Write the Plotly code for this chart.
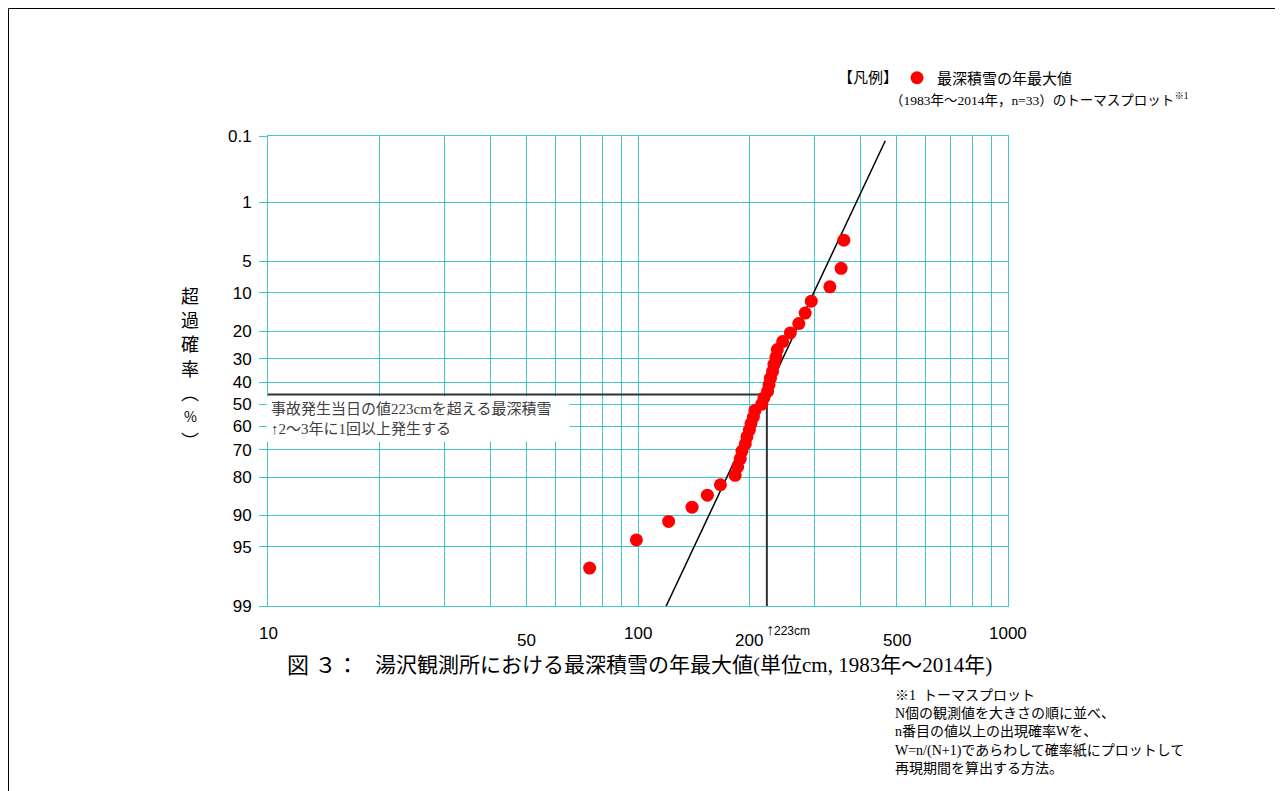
import math
from statistics import NormalDist
import plotly.graph_objects as go

# ---------------- data ----------------
# annual maximum snow depth (cm), ranked largest -> smallest (Thomas plot, n=33)
snow_depth_cm = [360, 354, 330, 294, 283, 272, 258, 246, 238, 236, 233, 231, 228, 226,
                 224, 219, 216, 207, 205, 202, 200, 197, 195, 191, 189, 186, 183, 167,
                 154, 140, 121, 99, 74]
# exceedance probability W = n/(N+1) in %
exceed_pct = [2.94, 5.88, 8.82, 11.76, 14.71, 17.65, 20.59, 23.53, 26.47, 29.41, 32.35,
              35.29, 38.24, 41.18, 44.12, 47.06, 50.00, 52.94, 55.88, 58.82, 61.76, 64.71,
              67.65, 70.59, 73.53, 76.47, 79.41, 82.35, 85.29, 88.24, 91.18, 94.12, 97.06]
# fitted log-normal line end points
fit_line_cm = [118, 466]
fit_line_pct = [99.1, 0.12]
# accident-day value
accident_cm = 223
accident_pct = 45.6

y_tick_pct = [0.1, 1, 5, 10, 20, 30, 40, 50, 60, 70, 80, 90, 95, 99]
y_tick_labels = ["0.1", "1", "5", "10", "20", "30", "40", "50", "60", "70", "80", "90", "95", "99"]
x_grid_vals = [10, 20, 30, 40, 50, 60, 70, 80, 90, 100, 200, 300, 400, 500, 600, 700, 800, 900, 1000]
x_tick_vals = [10, 50, 100, 200, 500, 1000]
x_tick_labels = ["10", "50", "100", "200", "500", "1000"]
y_title_chars = ["超", "過", "確", "率", "︵", "%", "︶"]

# ---------------- helpers ----------------
nd = NormalDist()


def z(p):
    return nd.inv_cdf(p / 100.0)


OFF = 8  # default page body margin
W, H = 1283 - OFF, 791 - OFF
ML, MT = 268 - OFF, 136 - OFF
PW, PH = 740, 470
MR, MB = W - ML - PW, H - MT - PH


def px(x):
    return (x - OFF - ML) / PW


def py(y):
    return (MT + PH - (y - OFF)) / PH


GRID = "#3ec8c8"
SERIF_JP = "Liberation Serif, Noto Sans CJK JP"
SANS = "Liberation Sans Narrow, Liberation Sans, Arial"

fig = go.Figure()

# fitted line
fig.add_trace(go.Scatter(
    x=fit_line_cm, y=[z(p) for p in fit_line_pct], mode="lines",
    line=dict(color="black", width=1.5), showlegend=False, hoverinfo="skip"))

# accident guide lines
fig.add_trace(go.Scatter(
    x=[x_grid_vals[0], accident_cm, accident_cm],
    y=[z(accident_pct), z(accident_pct), z(y_tick_pct[-1])],
    mode="lines", line=dict(color="#333333", width=2), showlegend=False, hoverinfo="skip"))

# data points
fig.add_trace(go.Scatter(
    x=snow_depth_cm, y=[z(p) for p in exceed_pct], mode="markers",
    marker=dict(color="#ff0000", size=13, line=dict(width=0)),
    name="最深積雪の年最大値", showlegend=True, cliponaxis=False))

annotations = []

# x tick labels
x_label_y = [633, 640, 633, 640, 640, 633]
for v, t, yy in zip(x_tick_vals, x_tick_labels, x_label_y):
    annotations.append(dict(x=math.log10(v), xref="x", y=py(yy), yref="paper",
                            text=t, showarrow=False, xanchor="center", yanchor="middle",
                            font=dict(family=SANS, size=17, color="black")))

# 223cm marker label
annotations.append(dict(x=math.log10(accident_cm), xref="x", y=py(629), yref="paper",
                        text="↑<span style='font-size:12px'>223cm</span>", showarrow=False,
                        xanchor="left", yanchor="middle", xshift=-3,
                        font=dict(family=SANS, size=16, color="black")))

# y axis title (vertical, one character per line)
for i, ch in enumerate(y_title_chars):
    annotations.append(dict(x=px(190), y=py(295 + 24.2 * i), xref="paper", yref="paper",
                            text=ch, showarrow=False, xanchor="center", yanchor="middle",
                            font=dict(family="Noto Sans CJK JP",
                                      size=14 if ch == "%" else 18, color="black")))

# note box on chart
annotations.append(dict(x=px(266), y=py(396), xref="paper", yref="paper",
                        text="事故発生当日の値223cmを超える最深積雪<br>↑2～3年に1回以上発生する",
                        showarrow=False, xanchor="left", yanchor="top", align="left",
                        bgcolor="white", borderpad=4, width=294,
                        font=dict(family=SERIF_JP, size=15, color="#404040")))

# legend heading & second line
annotations.append(dict(x=px(836), y=py(78), xref="paper", yref="paper",
                        text="【凡例】", showarrow=False, xanchor="left", yanchor="middle",
                        font=dict(family=SERIF_JP, size=15, color="black")))
annotations.append(dict(x=px(888), y=py(100), xref="paper", yref="paper",
                        text="（1983年～2014年，n=33）のトーマスプロット<sup>※1</sup>",
                        showarrow=False, xanchor="left", yanchor="middle",
                        font=dict(family=SERIF_JP, size=13.5, color="black")))

# caption
annotations.append(dict(x=px(285), y=py(665), xref="paper", yref="paper",
                        text="図 ３：", showarrow=False, xanchor="left", yanchor="middle",
                        font=dict(family=SERIF_JP, size=22, color="black")))
annotations.append(dict(x=px(373), y=py(665), xref="paper", yref="paper",
                        text="湯沢観測所における最深積雪の年最大値(単位cm, 1983年～2014年)",
                        showarrow=False, xanchor="left", yanchor="middle",
                        font=dict(family=SERIF_JP, size=21, color="black")))

# footnote
annotations.append(dict(x=px(893), y=py(686), xref="paper", yref="paper",
                        text="※1  トーマスプロット<br>N個の観測値を大きさの順に並べ、<br>n番目の値以上の出現確率Wを、"
                             "<br>W=n/(N+1)であらわして確率紙にプロットして<br>再現期間を算出する方法。",
                        showarrow=False, xanchor="left", yanchor="top", align="left",
                        font=dict(family=SERIF_JP, size=14, color="black")))

fig.update_layout(
    width=W, height=H,
    margin=dict(l=ML, r=MR, t=MT, b=MB, pad=0),
    paper_bgcolor="white", plot_bgcolor="white",
    font=dict(family=SANS, color="black"),
    xaxis=dict(type="log", range=[math.log10(x_grid_vals[0]), math.log10(x_grid_vals[-1])],
               tickvals=x_grid_vals, showticklabels=False, ticks="",
               showgrid=True, gridcolor=GRID, gridwidth=1,
               showline=True, linecolor=GRID, linewidth=1, mirror=True, zeroline=False),
    yaxis=dict(range=[z(y_tick_pct[-1]), z(y_tick_pct[0])],
               tickvals=[z(p) for p in y_tick_pct], ticktext=y_tick_labels,
               ticks="outside", ticklen=8, tickcolor=GRID, tickwidth=1,
               ticklabelstandoff=4,
               tickfont=dict(family="Liberation Sans, Arial", size=17, color="black"),
               showgrid=True, gridcolor=GRID, gridwidth=1,
               showline=True, linecolor=GRID, linewidth=1, mirror=True, zeroline=False),
    legend=dict(x=px(897), y=py(78), xanchor="left", yanchor="middle",
                bgcolor="rgba(0,0,0,0)", borderwidth=0, itemwidth=30,
                font=dict(family=SERIF_JP, size=15, color="black"),
                tracegroupgap=0),
    annotations=annotations,
    shapes=[dict(type="rect", xref="paper", yref="paper",
                 x0=px(OFF + 0.5), x1=px(1278.5), y0=py(OFF + 0.5), y1=py(900),
                 line=dict(color="black", width=1), fillcolor="rgba(0,0,0,0)")],
)

fig.write_html("out.html")
